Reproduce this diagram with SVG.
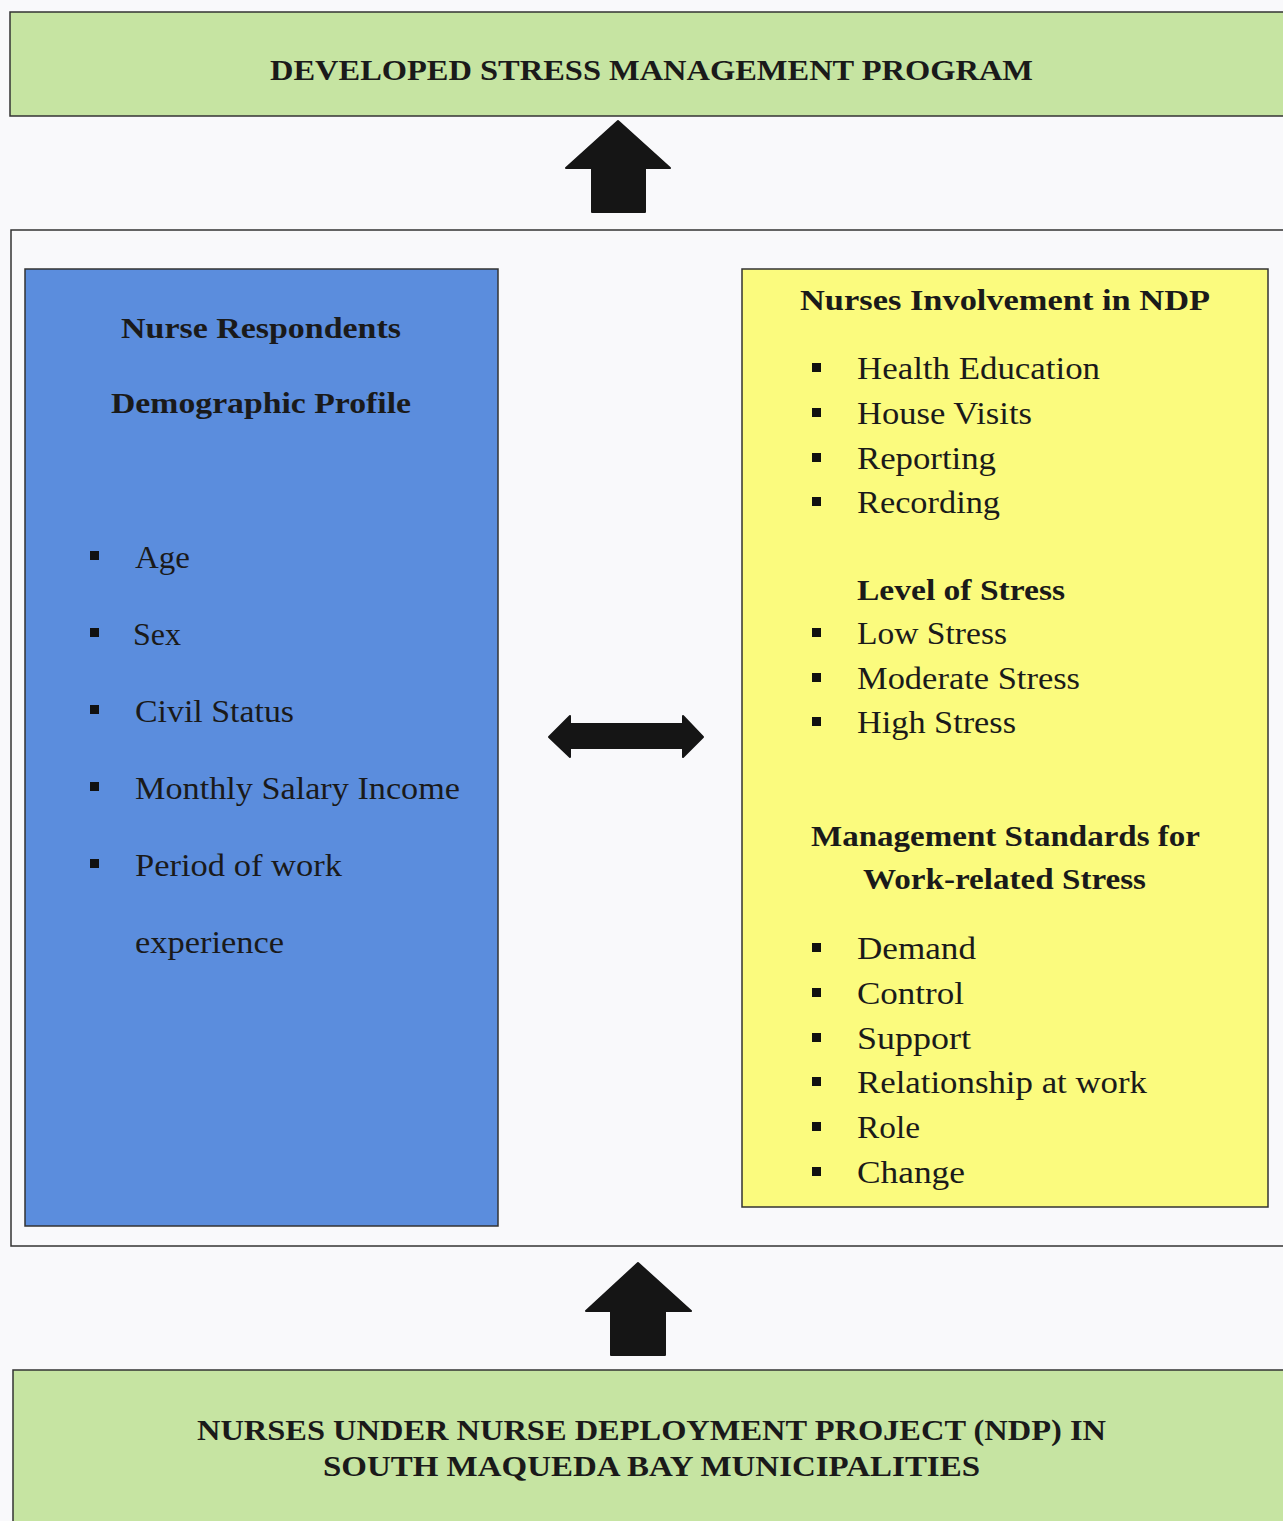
<svg xmlns="http://www.w3.org/2000/svg" width="1283" height="1521" viewBox="0 0 1283 1521">
<style>
.t{font-family:"Liberation Serif","DejaVu Serif",serif;fill:#1a1a1a;}
.cap{font-size:30px;font-weight:bold;}
.h{font-size:30px;font-weight:bold;}
.i{font-size:31px;}
.box{stroke:#333;stroke-width:1.5;}
.b{fill:#111;}
.arrow{fill:#151515;stroke:#151515;stroke-width:2;stroke-linejoin:round;}
</style>
<rect x="0" y="0" width="1283" height="1521" fill="#f9f9fb"/>

<g id="top-program">
<rect class="box" x="10" y="12" width="1290" height="104" fill="#c6e4a2"/>
<text class="t cap" x="270" y="80" textLength="763" lengthAdjust="spacingAndGlyphs">DEVELOPED STRESS MANAGEMENT PROGRAM</text>
</g>

<g id="framework">
<rect class="box" x="11" y="230" width="1290" height="1016" fill="none"/>
</g>

<g id="demographic">
<rect class="box" x="25" y="269" width="473" height="957" fill="#5b8ddd"/>
<text class="t h" x="121" y="338" textLength="280" lengthAdjust="spacingAndGlyphs">Nurse Respondents</text>
<text class="t h" x="111" y="413" textLength="300" lengthAdjust="spacingAndGlyphs">Demographic Profile</text>
<rect class="b" x="90" y="551" width="9" height="9"/>
<text class="t i" x="135" y="568" textLength="55" lengthAdjust="spacingAndGlyphs">Age</text>
<rect class="b" x="90" y="628" width="9" height="9"/>
<text class="t i" x="133" y="645" textLength="48" lengthAdjust="spacingAndGlyphs">Sex</text>
<rect class="b" x="90" y="705" width="9" height="9"/>
<text class="t i" x="135" y="722" textLength="159" lengthAdjust="spacingAndGlyphs">Civil Status</text>
<rect class="b" x="90" y="782" width="9" height="9"/>
<text class="t i" x="135" y="799" textLength="325" lengthAdjust="spacingAndGlyphs">Monthly Salary Income</text>
<rect class="b" x="90" y="859" width="9" height="9"/>
<text class="t i" x="135" y="876" textLength="207" lengthAdjust="spacingAndGlyphs">Period of work</text>
<text class="t i" x="135" y="953" textLength="149" lengthAdjust="spacingAndGlyphs">experience</text>
</g>

<g id="involvement">
<rect class="box" x="742" y="269" width="526" height="938" fill="#fbfb7e"/>
<text class="t h" x="800" y="310" textLength="410" lengthAdjust="spacingAndGlyphs">Nurses Involvement in NDP</text>
<rect class="b" x="812" y="363" width="9" height="9"/>
<text class="t i" x="857" y="379" textLength="243" lengthAdjust="spacingAndGlyphs">Health Education</text>
<rect class="b" x="812" y="408" width="9" height="9"/>
<text class="t i" x="857" y="424" textLength="175" lengthAdjust="spacingAndGlyphs">House Visits</text>
<rect class="b" x="812" y="453" width="9" height="9"/>
<text class="t i" x="857" y="469" textLength="139" lengthAdjust="spacingAndGlyphs">Reporting</text>
<rect class="b" x="812" y="497" width="9" height="9"/>
<text class="t i" x="857" y="513" textLength="143" lengthAdjust="spacingAndGlyphs">Recording</text>
<text class="t h" x="857" y="600" textLength="208" lengthAdjust="spacingAndGlyphs">Level of Stress</text>
<rect class="b" x="812" y="628" width="9" height="9"/>
<text class="t i" x="857" y="644" textLength="150" lengthAdjust="spacingAndGlyphs">Low Stress</text>
<rect class="b" x="812" y="673" width="9" height="9"/>
<text class="t i" x="857" y="689" textLength="223" lengthAdjust="spacingAndGlyphs">Moderate Stress</text>
<rect class="b" x="812" y="717" width="9" height="9"/>
<text class="t i" x="857" y="733" textLength="159" lengthAdjust="spacingAndGlyphs">High Stress</text>
<text class="t h" x="811" y="846" textLength="389" lengthAdjust="spacingAndGlyphs">Management Standards for</text>
<text class="t h" x="863" y="889" textLength="283" lengthAdjust="spacingAndGlyphs">Work-related Stress</text>
<rect class="b" x="812" y="943" width="9" height="9"/>
<text class="t i" x="857" y="959" textLength="119" lengthAdjust="spacingAndGlyphs">Demand</text>
<rect class="b" x="812" y="988" width="9" height="9"/>
<text class="t i" x="857" y="1004" textLength="107" lengthAdjust="spacingAndGlyphs">Control</text>
<rect class="b" x="812" y="1033" width="9" height="9"/>
<text class="t i" x="857" y="1049" textLength="114" lengthAdjust="spacingAndGlyphs">Support</text>
<rect class="b" x="812" y="1077" width="9" height="9"/>
<text class="t i" x="857" y="1093" textLength="290" lengthAdjust="spacingAndGlyphs">Relationship at work</text>
<rect class="b" x="812" y="1122" width="9" height="9"/>
<text class="t i" x="857" y="1138" textLength="63" lengthAdjust="spacingAndGlyphs">Role</text>
<rect class="b" x="812" y="1167" width="9" height="9"/>
<text class="t i" x="857" y="1183" textLength="108" lengthAdjust="spacingAndGlyphs">Change</text>
</g>

<g id="nurses-ndp">
<rect class="box" x="13" y="1370" width="1290" height="170" fill="#c6e4a2"/>
<text class="t cap" x="197" y="1440" textLength="909" lengthAdjust="spacingAndGlyphs">NURSES UNDER NURSE DEPLOYMENT PROJECT (NDP) IN</text>
<text class="t cap" x="323" y="1476" textLength="657" lengthAdjust="spacingAndGlyphs">SOUTH MAQUEDA BAY MUNICIPALITIES</text>
</g>

<g id="connectors">
<polygon class="arrow" points="618,121 670,168 645,168 645,212 592,212 592,168 566,168"/>
<polygon class="arrow" points="549,737 570,716 570,724 683,724 683,716 703,737 683,757 683,748 570,748 570,757"/>
<polygon class="arrow" points="638,1263 691,1311 665,1311 665,1355 611,1355 611,1311 586,1311"/>
</g>
</svg>
